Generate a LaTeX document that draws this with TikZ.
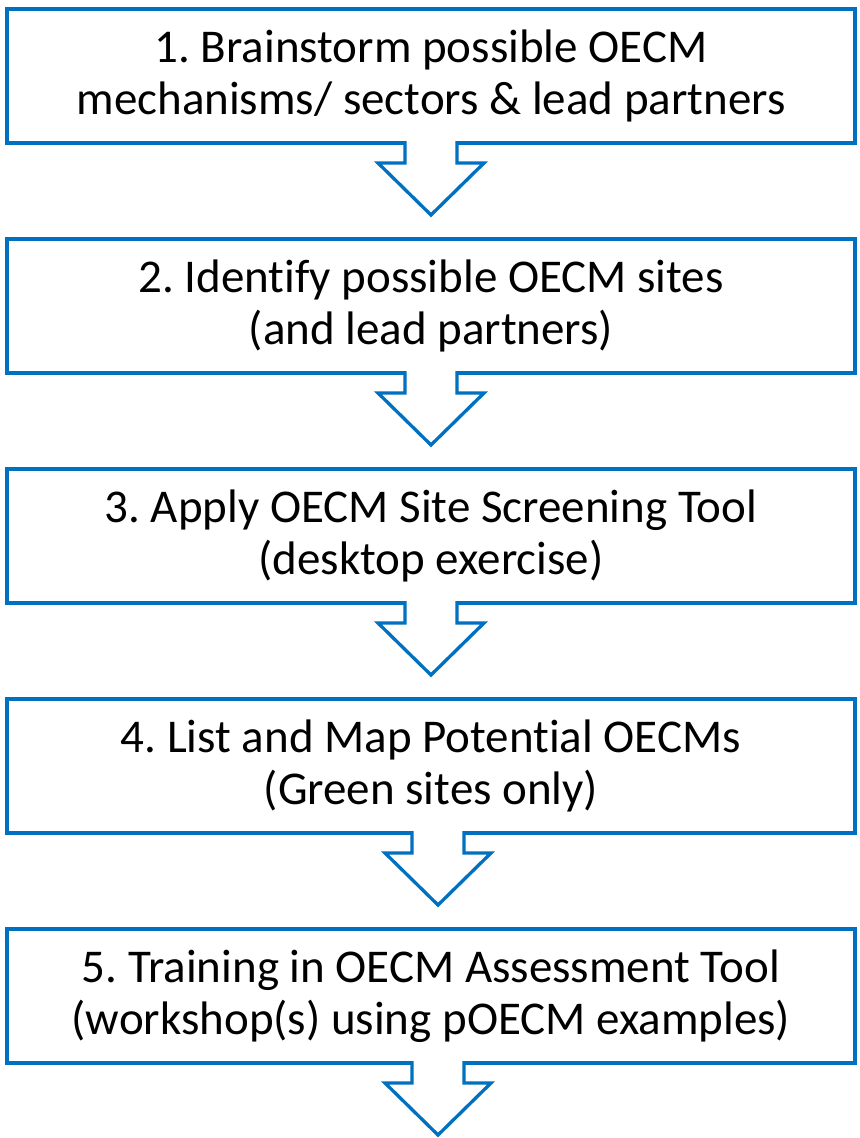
\documentclass[tikz,border=0pt]{standalone}
\usepackage{fontspec}
\setmainfont{Carlito}[Ligatures=NoCommon]
\usepackage{tikz}
\usetikzlibrary{positioning}
\frenchspacing
\definecolor{OecmBlue}{HTML}{0070C0}
\tikzset{
  stepbox/.style={draw=OecmBlue,line width=1.65pt,fill=white,align=center,
    minimum width=424pt,minimum height=67pt,inner sep=2pt,outer sep=0pt,
    font=\fontsize{23.5pt}{26pt}\selectfont},
  blockline/.style={draw=OecmBlue,line width=1.65pt,fill=white,line join=miter},
  blockdown/.pic={
    \draw[blockline] (-13pt,0.9pt) -- (-13pt,-10pt) -- (-26.5pt,-10pt)
      -- (0pt,-36pt) -- (26.5pt,-10pt) -- (13pt,-10pt) -- (13pt,0.9pt);
  }
}
\begin{document}
\begin{tikzpicture}[node distance=48pt]
  \useasboundingbox (0pt,0pt) rectangle (429.5pt,-569pt);
  \node[stepbox] (brainstorm) at (215.5pt,-38pt) {1. Brainstorm possible OECM\\mechanisms/ sectors \& lead partners};
  \node[stepbox,below=of brainstorm] (identify) {2. Identify possible OECM sites\\(and lead partners)};
  \node[stepbox,below=of identify] (screening) {3. Apply OECM Site Screening Tool\\(desktop exercise)};
  \node[stepbox,below=of screening] (listmap) {4. List and Map Potential OECMs\\(Green sites only)};
  \node[stepbox,below=of listmap] (training) {5. Training in OECM Assessment Tool\\(workshop(s) using pOECM examples)};
  % block arrows under each step
  \pic at (brainstorm.south) {blockdown};
  \pic at (identify.south) {blockdown};
  \pic at (screening.south) {blockdown};
  \pic at ([xshift=3.5pt]listmap.south) {blockdown};
  \pic at ([xshift=3.5pt]training.south) {blockdown};
\end{tikzpicture}
\end{document}
